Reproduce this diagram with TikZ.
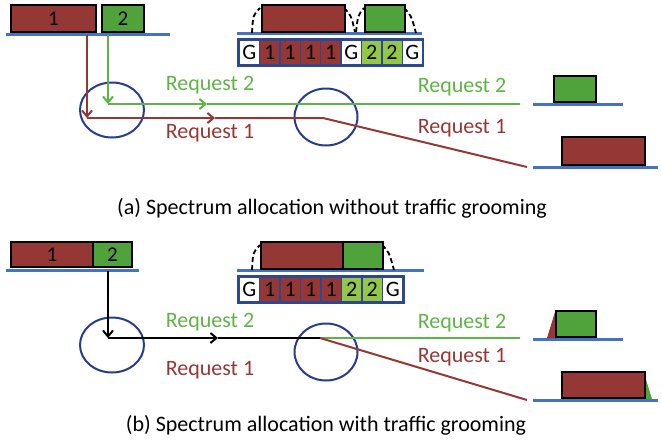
\documentclass[tikz,border=0pt]{standalone}
\usepackage{fontspec}
\setmainfont{Carlito}
\definecolor{first}{RGB}{149,55,53}
\definecolor{second}{RGB}{79,163,58}
\definecolor{secondlight}{RGB}{146,200,70}
\definecolor{textgreen}{RGB}{95,180,70}
\definecolor{fiber}{RGB}{68,114,196}
\definecolor{ring}{RGB}{40,60,140}
\definecolor{gridline}{RGB}{47,70,145}
\usetikzlibrary{
	arrows.meta,
	positioning,
	shapes.geometric
}
\tikzset{
  % arrow
	cstra/.style      ={-{Straight Barb[length=6pt,width=10pt]}},
  % line
	cstfiber/.style   ={fiber,line width=3pt},
	cstreq1/.style    ={first,line width=2pt},
	cstreq2/.style    ={textgreen,line width=2pt},
	cstreq/.style     ={black,line width=2pt},
	cstdash/.style    ={black,line width=1.8pt,dash pattern=on 5pt off 3pt},
  % node
	cstslot/.style    ={draw=black,line width=2pt,inner sep=0pt,anchor=south west,font=\fontsize{21}{21}\selectfont},
	cstslot1/.style   ={cstslot,fill=first},
	cstslot2/.style   ={cstslot,fill=second},
	cstcell/.style    ={draw=gridline,line width=1.4pt,inner sep=0pt,minimum width=20.4pt,minimum height=25pt,font=\fontsize{22}{22}\selectfont},
	cstring/.style    ={ellipse,draw=ring,line width=2pt,inner sep=0pt},
	cstlabel1/.style  ={text=first,font=\fontsize{22}{22}\selectfont},
	cstlabel2/.style  ={text=textgreen,font=\fontsize{22}{22}\selectfont},
	cstcaption/.style ={font=\fontsize{22}{22}\selectfont}
}

\begin{document}
\begin{tikzpicture}[x=1pt,y=-1pt]
			\useasboundingbox (0,0) rectangle (661,439);
			% (a) without grooming
			\draw[cstfiber] (6,34) -- (170,34);
			\node[cstslot1,minimum width=85pt,minimum height=27pt] (a1) at (10,33) {1};
			\node[cstslot2,minimum width=42pt,minimum height=27pt] (a2) at (101,33) {2};
			\node[cstring,minimum width=64pt,minimum height=55pt] (ca1) at (112,110) {};
			\node[cstring,minimum width=63pt,minimum height=57pt] (ca2) at (326,117) {};
			\coordinate (ar1) at (87,35);
			\coordinate (ar1c) at (87,118);
			\coordinate (ar1m) at (215,118);
			\coordinate (ar1t) at (323,118);
			\coordinate (ar1e) at (527,167);
			\coordinate (ar2) at (108,35);
			\coordinate (ar2c) at (108,104);
			\coordinate (ar2m) at (207,104);
			\coordinate (ar2e) at (520,104);
			\draw[cstreq1,cstra] (ar1) -- (ar1c);
			\draw[cstreq1,cstra] (ar1c) -- (ar1m);
			\draw[cstreq1] (ar1m) -- (ar1t) -- (ar1e);
			\draw[cstreq2,cstra] (ar2) -- (ar2c);
			\draw[cstreq2,cstra] (ar2c) -- (ar2m);
			\draw[cstreq2] (ar2m) -- (ar2e);
			\node[cstlabel2] (la2) at (210,85) {Request 2};
			\node[cstlabel1] (la1) at (210,133) {Request 1};
			\node[cstlabel2] (ra2) at (462,87) {Request 2};
			\node[cstlabel1] (ra1) at (462,128) {Request 1};
			% spectrum of the link
			\draw[cstfiber] (237,33) -- (422,33);
			\draw[cstdash] (252,33) .. controls (253,15) .. (260,8);
			\draw[cstdash] (344,8) .. controls (351,15) .. (355,32);
			\draw[cstdash] (356,32) .. controls (358,15) .. (364,8);
			\draw[cstdash] (404,8) .. controls (411,15) .. (416,33);
			\node[cstslot1,minimum width=83pt,minimum height=27pt] (sa1) at (261,33) {};
			\node[cstslot2,minimum width=40pt,minimum height=27pt] (sa2) at (364,33) {};
			\foreach \t/\c [count=\i] in {G/white,1/first,1/first,1/first,1/first,G/white,2/secondlight,2/secondlight,G/white}
				\node[cstcell,fill=\c] (ga\i) at ({239+20.4*(\i-0.5)},52.5) {\t};
			\draw[gridline,line width=1.8pt] (ga1.north west) rectangle (ga9.south east);
			% destinations
			\draw[cstfiber] (533,104) -- (623,104);
			\node[cstslot2,minimum width=42pt,minimum height=26pt] (da2) at (553,103) {};
			\draw[cstfiber] (533,167) -- (658,167);
			\node[cstslot1,minimum width=83pt,minimum height=28pt] (da1) at (561,166) {};
			\node[cstcaption] (capa) at (332,208) {(a) Spectrum allocation without traffic grooming};
			% (b) with grooming
			\draw[cstfiber] (6,270) -- (139,270);
			\node[cstslot1,minimum width=82pt,minimum height=25pt] (b1) at (10,268) {1};
			\node[cstslot2,minimum width=39pt,minimum height=25pt] (b2) at (92,268) {2};
			\node[cstring,minimum width=64pt,minimum height=55pt] (cb1) at (112,345) {};
			\node[cstring,minimum width=63pt,minimum height=57pt] (cb2) at (326,352) {};
			\coordinate (br) at (108,271);
			\coordinate (brc) at (108,338);
			\coordinate (brm) at (218,338);
			\coordinate (brt) at (320,338);
			\coordinate (br1e) at (527,400);
			\coordinate (br2e) at (520,338);
			\draw[cstreq,cstra] (br) -- (brc);
			\draw[cstreq,cstra] (brc) -- (brm);
			\draw[cstreq] (brm) -- (brt);
			\draw[cstreq2] (brt) -- (br2e);
			\draw[cstreq1] (brt) -- (br1e);
			\node[cstlabel2] (lb2) at (210,322) {Request 2};
			\node[cstlabel1] (lb1) at (210,370) {Request 1};
			\node[cstlabel2] (rb2) at (462,323) {Request 2};
			\node[cstlabel1] (rb1) at (462,357) {Request 1};
			% spectrum of the link
			\draw[cstfiber] (237,270) -- (424,270);
			\draw[cstdash] (252,270) .. controls (253,252) .. (260,245);
			\draw[cstdash] (333,270) .. controls (334,252) .. (341,245);
			\draw[cstdash] (341,245) .. controls (348,252) .. (352,270);
			\draw[cstdash] (382,245) .. controls (389,252) .. (394,270);
			\node[cstslot1,minimum width=82pt,minimum height=27pt] (sb1) at (260,270) {};
			\node[cstslot2,minimum width=40pt,minimum height=27pt] (sb2) at (342,270) {};
			\foreach \t/\c [count=\i] in {G/white,1/first,1/first,1/first,1/first,2/secondlight,2/secondlight,G/white}
				\node[cstcell,fill=\c] (gb\i) at ({239+20.5*(\i-0.5)},289.5) {\t};
			\draw[gridline,line width=1.8pt] (gb1.north west) rectangle (gb8.south east);
			% destinations
			\draw[cstfiber] (533,339) -- (623,339);
			\fill[first] (547,338) -- (555,312) -- (555,338) -- cycle;
			\node[cstslot2,minimum width=40pt,minimum height=26pt] (db2) at (555,338) {};
			\draw[cstfiber] (533,400) -- (658,400);
			\fill[second] (644,373) -- (652,399) -- (644,399) -- cycle;
			\node[cstslot1,minimum width=83pt,minimum height=26pt] (db1) at (561,399) {};
			\node[cstcaption] (capb) at (326,425) {(b) Spectrum allocation with traffic grooming};
		\end{tikzpicture}
\end{document}
